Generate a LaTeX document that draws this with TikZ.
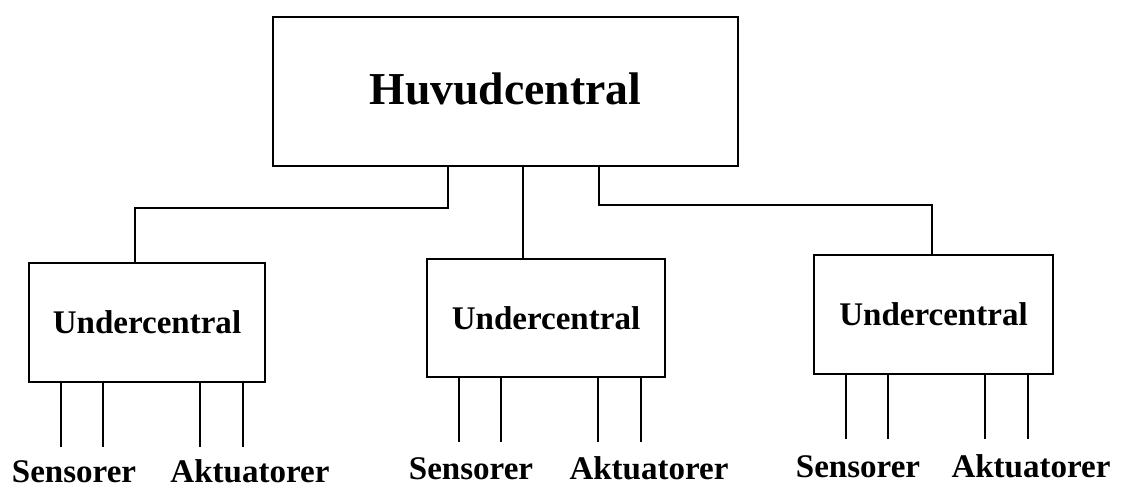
\documentclass[tikz,border=0pt]{standalone}
\usepackage{fontspec}
\setmainfont{Liberation Serif}
\usetikzlibrary{positioning,calc}

\begin{document}
\begin{tikzpicture}[x=0.02cm,y=-0.02cm,line width=1.1pt,
  central/.style={draw,rectangle,inner sep=0pt,font=\fontsize{26}{30}\selectfont\bfseries},
  under/.style={draw,rectangle,inner sep=0pt,minimum height=2.38cm,font=\fontsize{18.8}{22}\selectfont\bfseries},
  ending/.style={anchor=base,inner sep=0pt,font=\fontsize{18.8}{22}\selectfont\bfseries}]
\useasboundingbox (0,0) rectangle (1121,488);
\node[central,minimum width=9.3cm,minimum height=2.98cm] (hc) at (505.5,91.5) {\raisebox{3pt}{Huvudcentral}};
\node[under,minimum width=4.72cm] (u1) at (147,322.5) {Undercentral};
\node[under,minimum width=4.76cm,minimum height=2.36cm] (u2) at (546,318) {Undercentral};
\node[under,minimum width=4.78cm] (u3) at (933.5,314.5) {Undercentral};
%
\draw ([xshift=-1.15cm]hc.south) -- ++(0,41) -| ([xshift=-0.24cm]u1.north);
\draw ([xshift=0.35cm]hc.south) -- ([xshift=0.35cm]hc.south |- u2.north);
\draw ([xshift=1.87cm]hc.south) -- ++(0,38) -| ([xshift=-0.03cm]u3.north);
%
\foreach \u in {u1,u2,u3}
  \foreach \dx in {33,75,172,215}
    \draw (\u.south west) ++(\dx,0) -- ++(0,64);
%
\node[ending] (s1) at (74,482) {Sensorer};
\node[ending] (a1) at (250,482) {Aktuatorer};
\node[ending] (s2) at (471,479) {Sensorer};
\node[ending] (a2) at (649,479) {Aktuatorer};
\node[ending] (s3) at (858,477) {Sensorer};
\node[ending] (a3) at (1031,477) {Aktuatorer};
\end{tikzpicture}
\end{document}
